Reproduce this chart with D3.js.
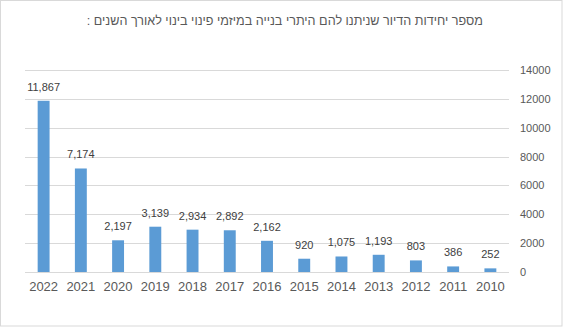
<!DOCTYPE html>
<html><head><meta charset="utf-8">
<script src="https://cdn.jsdelivr.net/npm/d3@7"></script>
<style>html,body{margin:0;padding:0;background:#fff;}svg{display:block;}</style>
</head><body>
<script>
const title = "מספר יחידות הדיור שניתנו להם היתרי בנייה במיזמי פינוי בינוי לאורך השנים :";
const years = ["2022","2021","2020","2019","2018","2017","2016","2015","2014","2013","2012","2011","2010"];
const units = [11867, 7174, 2197, 3139, 2934, 2892, 2162, 920, 1075, 1193, 803, 386, 252];
const yTicks = [0, 2000, 4000, 6000, 8000, 10000, 12000, 14000];

const W = 563, H = 327;
const svg = d3.select("body").append("svg").attr("width", W).attr("height", H);
svg.append("rect").attr("x",0.5).attr("y",0.5).attr("width",W-1.5).attr("height",H-1.5)
  .attr("fill","#fff").attr("stroke","#d9d9d9");

const pLeft = 25, pRight = 509, pTop = 70, pBottom = 272;
const x = d3.scaleBand().domain(years).range([pLeft, pRight]).paddingInner(0.68).paddingOuter(0.34);
const y = d3.scaleLinear().domain([0, 14000]).range([pBottom, pTop]);

const font = "'Liberation Sans', Arial, sans-serif";

svg.append("text").attr("x", 483).attr("y", 25).attr("direction","rtl")
  .attr("text-anchor","start").attr("font-family", font).attr("font-size", 12.6)
  .attr("fill","#595959").text(title);

// grid
svg.append("g").selectAll("line").data(yTicks).join("line")
  .attr("x1", pLeft).attr("x2", pRight)
  .attr("y1", d => Math.round(y(d)) + 0.5).attr("y2", d => Math.round(y(d)) + 0.5)
  .attr("stroke","#d9d9d9").attr("stroke-width",1);

// right axis
const ya = d3.axisRight(y).tickValues(yTicks).tickFormat(d3.format("d")).tickSize(0).tickPadding(11);
const gy = svg.append("g").attr("transform", `translate(${pRight},0)`).call(ya);
gy.select(".domain").remove();
gy.selectAll("text").attr("font-family", font).attr("font-size", 11).attr("fill","#595959");

// bottom axis
const xa = d3.axisBottom(x).tickSize(0).tickPadding(10);
const gx = svg.append("g").attr("transform", `translate(0,${pBottom})`).call(xa);
gx.select(".domain").remove();
gx.selectAll("text").attr("font-family", font).attr("font-size", 13).attr("fill","#595959");

// bars
svg.append("g").selectAll("rect").data(units).join("rect")
  .attr("x", (d,i) => x(years[i])).attr("width", x.bandwidth())
  .attr("y", d => y(d)).attr("height", d => y(0) - y(d))
  .attr("fill","#5b9bd5");

// labels
svg.append("g").selectAll("text").data(units).join("text")
  .attr("x", (d,i) => x(years[i]) + x.bandwidth()/2).attr("y", d => y(d) - 10)
  .attr("text-anchor","middle").attr("font-family", font).attr("font-size", 11)
  .attr("fill","#404040").text(d => d3.format(",")(d));
</script>
</body></html>
